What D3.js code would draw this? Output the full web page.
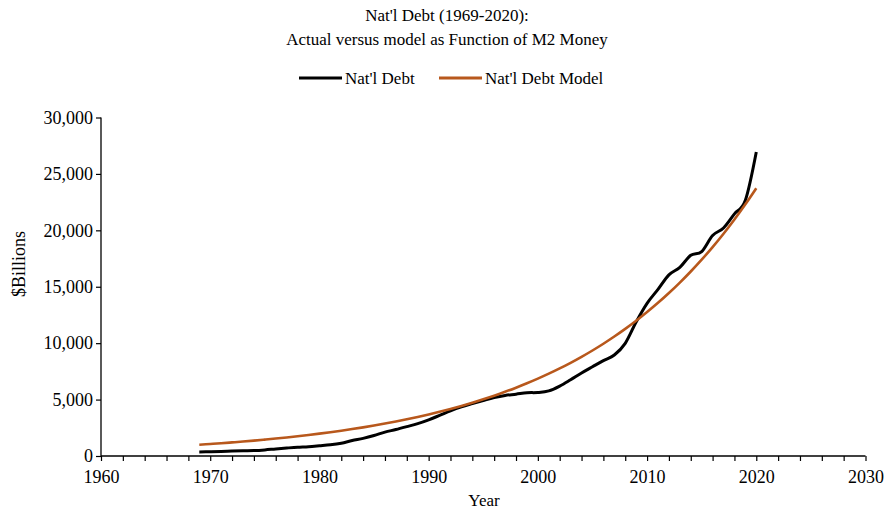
<!DOCTYPE html>
<html>
<head>
<meta charset="utf-8">
<script src="https://cdn.jsdelivr.net/npm/d3@7"></script>
<style>
  body { margin: 0; background: #fff; }
  text { font-family: "Liberation Serif", "Times New Roman", serif; fill: #000; }
</style>
</head>
<body>
<svg id="chart" width="893" height="509"></svg>
<script>
// years 1969..2020
const years = d3.range(1969, 2021)

// Nat'l Debt, $ billions
const debt = [
  365, 381, 408, 436, 466, 484, 542, 629, 706, 777,
  829, 909, 995, 1137, 1372, 1565, 1817, 2120, 2346, 2601,
  2868, 3206, 3598, 4002, 4351, 4643, 4921, 5181, 5369, 5478,
  5606, 5629, 5770, 6198, 6760, 7355, 7905, 8451, 8951, 9986,
  11876, 13529, 14764, 16051, 16719, 17794, 18120, 19540, 20206, 21462,
  22670, 26945
]

// Nat'l Debt Model, $ billions
const model = [
  1000, 1064, 1132, 1205, 1282, 1364, 1452, 1545, 1643, 1749,
  1861, 1980, 2107, 2242, 2386, 2538, 2701, 2874, 3058, 3254,
  3462, 3684, 3920, 4171, 4439, 4723, 5026, 5348, 5690, 6055,
  6443, 6855, 7295, 7762, 8259, 8788, 9351, 9950, 10588, 11266,
  11988, 12756, 13573, 14442, 15368, 16352, 17399, 18514, 19700, 20962,
  22305, 23734
]

const xTicks = [1960, 1970, 1980, 1990, 2000, 2010, 2020, 2030]
const yTicks = [0, 5000, 10000, 15000, 20000, 25000, 30000]

const svg = d3.select('#chart')

const x = d3.scaleLinear().domain([1960, 2030]).range([101, 865.5])
const y = d3.scaleLinear().domain([0, 30000]).range([456, 117.5])

// title
svg.append('text')
  .attr('x', 447).attr('y', 21)
  .attr('text-anchor', 'middle')
  .style('font-size', '17px')
  .text("Nat'l Debt (1969-2020):")
svg.append('text')
  .attr('x', 447).attr('y', 45)
  .attr('text-anchor', 'middle')
  .style('font-size', '17px')
  .text('Actual versus model as Function of M2 Money')

// legend
const legend = [
  {name: "Nat'l Debt", color: '#000000', x: 299},
  {name: "Nat'l Debt Model", color: '#B8581C', x: 439}
]
legend.forEach(l => {
  svg.append('line')
    .attr('x1', l.x).attr('x2', l.x + 43)
    .attr('y1', 78).attr('y2', 78)
    .attr('stroke', l.color)
    .attr('stroke-width', 3)
  svg.append('text')
    .attr('x', l.x + 46).attr('y', 84)
    .style('font-size', '17px')
    .text(l.name)
})

// axes
const xAxis = svg.append('g')
  .attr('transform', 'translate(0,456)')
  .call(d3.axisBottom(x).tickValues(d3.range(1960, 2031, 2)).tickSize(5)
    .tickFormat(d => xTicks.includes(d) ? d : ''))
xAxis.select('.domain').attr('stroke', '#000').attr('stroke-width', 1.3)
  .attr('d', `M${x(1960)},0H${x(2030)}`)
xAxis.selectAll('.tick line').attr('stroke', '#000').attr('stroke-width', 1.2)
xAxis.selectAll('.tick text')
  .attr('dy', 0).attr('y', 27)
  .style('font-size', '18px')

const yAxis = svg.append('g')
  .attr('transform', 'translate(101,0)')
  .call(d3.axisLeft(y).tickValues(yTicks).tickSize(5).tickPadding(3)
    .tickFormat(d3.format(',')))
yAxis.select('.domain').attr('stroke', '#000').attr('stroke-width', 1.3)
  .attr('d', `M0,${y(30000)}V${y(0)}`)
yAxis.selectAll('.tick line').attr('stroke', '#000').attr('stroke-width', 1.2)
yAxis.selectAll('.tick text').style('font-size', '18px')

// axis titles
svg.append('text')
  .attr('x', 484).attr('y', 506)
  .attr('text-anchor', 'middle')
  .style('font-size', '17px')
  .text('Year')
svg.append('text')
  .attr('transform', 'translate(25,264) rotate(-90)')
  .attr('text-anchor', 'middle')
  .style('font-size', '18px')
  .text('$Billions')

// lines
const line = d3.line()
  .x(d => x(d[0]))
  .y(d => y(d[1]))
  .curve(d3.curveCatmullRom.alpha(0))

svg.append('path')
  .datum(years.map((yr, i) => [yr, debt[i]]))
  .attr('fill', 'none')
  .attr('stroke', '#000')
  .attr('stroke-width', 3)
  .attr('stroke-linejoin', 'round')
  .attr('d', line)

svg.append('path')
  .datum(years.map((yr, i) => [yr, model[i]]))
  .attr('fill', 'none')
  .attr('stroke', '#B8581C')
  .attr('stroke-width', 2.6)
  .attr('d', line)
</script>
</body>
</html>
